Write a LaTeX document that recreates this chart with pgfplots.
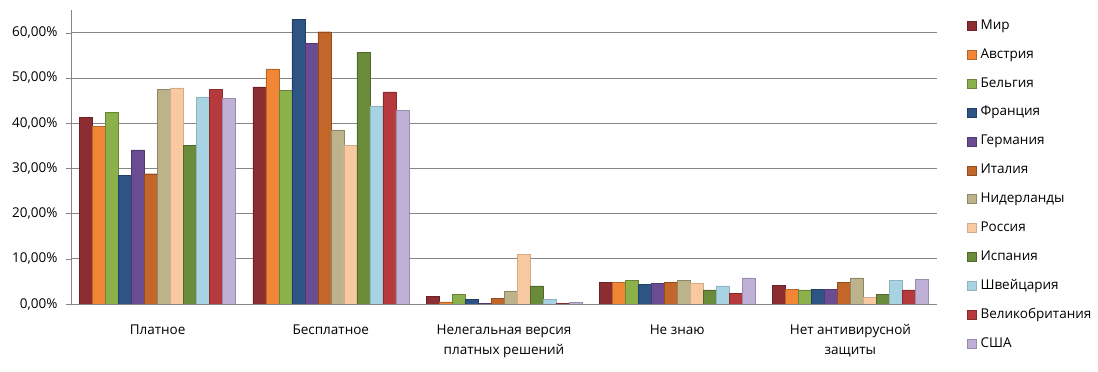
\documentclass[border=0pt]{standalone}
\usepackage{pgfplots}
\usepackage{pgfplotstable}
\pgfplotsset{compat=1.18}
\usepackage{fontspec}
\setmainfont{Open Sans}
\definecolor{cMir}{RGB}{140,45,50}
\definecolor{cAvs}{RGB}{240,134,54}
\definecolor{cBel}{RGB}{140,176,74}
\definecolor{cFra}{RGB}{46,84,134}
\definecolor{cGer}{RGB}{107,76,147}
\definecolor{cIta}{RGB}{195,102,42}
\definecolor{cNid}{RGB}{188,179,138}
\definecolor{cRus}{RGB}{248,201,160}
\definecolor{cIsp}{RGB}{106,139,58}
\definecolor{cShv}{RGB}{168,211,227}
\definecolor{cVel}{RGB}{181,57,61}
\definecolor{cUSA}{RGB}{191,176,214}
\definecolor{gridc}{RGB}{134,134,134}
\pgfplotstableread{
x mir avs bel fra ger ita nid rus isp shv vel usa
0 41.2 39.2 42.3 28.4 34.1 28.8 47.4 47.8 35.0 45.8 47.4 45.4
1 48.0 52.0 47.2 62.9 57.6 60.2 38.5 35.0 55.6 43.8 46.9 42.8
2 1.7 0.45 2.2 1.1 0.2 1.3 2.9 10.9 4.0 1.1 0.2 0.4
3 4.8 4.8 5.3 4.3 4.6 4.8 5.3 4.6 3.1 4.0 2.4 5.8
4 4.2 3.3 3.1 3.3 3.3 4.8 5.8 1.5 2.2 5.3 3.1 5.5
}\data
\begin{document}
\begin{tikzpicture}
\useasboundingbox (0,0) rectangle (1098pt,372pt);
\begin{axis}[
  at={(71pt,68pt)}, anchor=south west,
  width=866pt, height=294pt, scale only axis,
  ybar=0pt, bar width=13pt,
  xmin=-0.5, xmax=4.5, ymin=0, ymax=65,
  axis x line=bottom, axis y line=left,
  axis line style={gridc, -},
  x axis line style={-}, y axis line style={-},
  xtick={0,1,2,3,4},
  xticklabels={Платное,Бесплатное,{Нелегальная версия\\платных решений},Не знаю,{Нет антивирусной\\защиты}},
  xticklabel style={align=center, font=\fontsize{13.5}{20}\selectfont, yshift=-12pt},
  major x tick style={draw=none},
  extra x ticks={-0.5,0.5,1.5,2.5,3.5,4.5},
  extra x tick labels={},
  extra x tick style={grid=none, tick style={gridc, draw=gridc}, major tick length=5pt, tick align=outside},
  ytick={0,10,20,30,40,50,60},
  ymajorgrids, grid style={gridc, line width=0.6pt},
  tick align=outside, major tick length=5pt,
  y tick style={gridc},
  yticklabel={\pgfmathprintnumber[fixed,fixed zerofill,precision=2,use comma]{\tick}\%},
  /pgf/number format/assume math mode=true,
  yticklabel style={font=\fontsize{13.5}{16}\selectfont, xshift=-5pt},
  legend style={draw=none, at={(1,1)}, anchor=north west, xshift=27pt, yshift=-8pt,
    font=\fontsize{13.5}{16}\selectfont, row sep=16.9pt,
    nodes={inner sep=0pt, text height=9pt, text depth=3pt, anchor=base west}},
  legend cell align=left,
  legend image code/.code={\draw[#1, line width=0.4pt] (0pt,-1pt) rectangle (9pt,8pt); \path (13pt,0pt);},
]
\addplot[fill=cMir, draw=cMir!75!black] table[x=x,y=mir]{\data};
\addplot[fill=cAvs, draw=cAvs!75!black] table[x=x,y=avs]{\data};
\addplot[fill=cBel, draw=cBel!75!black] table[x=x,y=bel]{\data};
\addplot[fill=cFra, draw=cFra!75!black] table[x=x,y=fra]{\data};
\addplot[fill=cGer, draw=cGer!75!black] table[x=x,y=ger]{\data};
\addplot[fill=cIta, draw=cIta!75!black] table[x=x,y=ita]{\data};
\addplot[fill=cNid, draw=cNid!75!black] table[x=x,y=nid]{\data};
\addplot[fill=cRus, draw=cRus!85!black] table[x=x,y=rus]{\data};
\addplot[fill=cIsp, draw=cIsp!75!black] table[x=x,y=isp]{\data};
\addplot[fill=cShv, draw=cShv!85!black] table[x=x,y=shv]{\data};
\addplot[fill=cVel, draw=cVel!75!black] table[x=x,y=vel]{\data};
\addplot[fill=cUSA, draw=cUSA!80!black] table[x=x,y=usa]{\data};
\legend{Мир,Австрия,Бельгия,Франция,Германия,Италия,Нидерланды,Россия,Испания,Швейцария,Великобритания,США}
\end{axis}
\end{tikzpicture}
\end{document}
